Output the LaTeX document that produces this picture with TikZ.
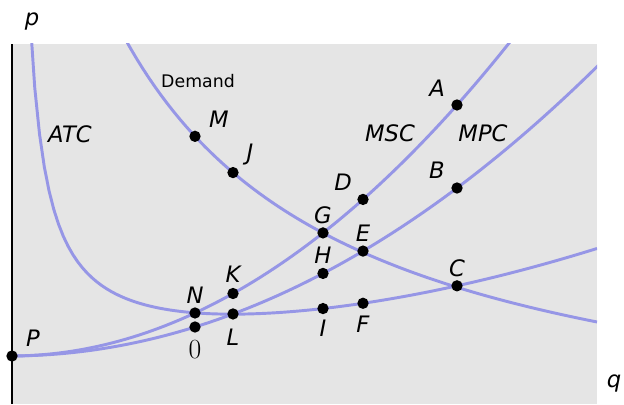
\documentclass[tikz,border=0pt]{standalone}
\usepackage{fontspec}
\setmainfont{DejaVu Sans}
\definecolor{curveBlue}{RGB}{150,150,230}
\definecolor{panelGray}{RGB}{229,229,229}

\begin{document}
\begin{tikzpicture}[x=0.75pt, y=0.75pt,
  declare function={
    mpc(\u)=0.55*(\u/100)+8.36*(\u/100)^2;
    msc(\u)=0.52*(\u/100)+12.56*(\u/100)^2;
    atc(\u)=6100/\u+0.275*(\u/100)+2.79*(\u/100)^2;
    dem(\u)=988.45/(\u+120.4)*100-106.1;},
  curve/.style={draw=curveBlue, line width=2.2pt},
  dot/.style={circle, fill=black, inner sep=0pt, minimum size=8.5pt},
  lbl/.style={font=\fontsize{17}{20}\selectfont\itshape, inner sep=0pt}]
  \useasboundingbox (-12,-48) rectangle (612,356);
  % Shaded panel and price axis
  \fill[panelGray] (0,-48) rectangle (585,312);
  \draw[line width=0.9pt] (0,-48) -- (0,312);
  \node[lbl] (pAxis) at (20,334) {p};
  \node[lbl] (qAxis) at (602,-27) {q};
  % Cost and demand curves
  \begin{scope}
    \clip (0,-48) rectangle (585,312);
    \draw[curve] plot[domain=18:585, samples=120] (\x,{atc(\x)});
    \draw[curve] plot[domain=100:585, samples=80] (\x,{dem(\x)});
    \draw[curve] plot[domain=0:530, samples=80] (\x,{msc(\x)});
    \draw[curve] plot[domain=0:600, samples=80] (\x,{mpc(\x)});
  \end{scope}
  % Curve names
  \node[lbl] (atcName) at (58,222) {ATC};
  \node[font=\fontsize{13}{15}\selectfont, inner sep=0pt] (demName) at (186,275) {Demand};
  \node[lbl] (mscName) at (378,223) {MSC};
  \node[lbl] (mpcName) at (471,223) {MPC};
  % Points
  \node[dot] (P) at (0,0) {};
  \node[dot] (N) at (183,{msc(183)}) {};
  \node[dot] (O) at (183,{mpc(183)}) {};
  \node[dot] (K) at (221,{msc(221)}) {};
  \node[dot] (L) at (221,{mpc(221)}) {};
  \node[dot] (M) at (183,{dem(183)}) {};
  \node[dot] (J) at (221,{dem(221)}) {};
  \node[dot] (G) at (311,{msc(311)}) {};
  \node[dot] (H) at (311,{mpc(311)}) {};
  \node[dot] (I) at (311,{atc(311)}) {};
  \node[dot] (D) at (351,{msc(351)}) {};
  \node[dot] (E) at (351,{mpc(351)}) {};
  \node[dot] (F) at (351,{atc(351)}) {};
  \node[dot] (A) at (445,{msc(445)}) {};
  \node[dot] (B) at (445,{mpc(445)}) {};
  \node[dot] (C) at (445,{atc(445)}) {};
  % Point labels
  \node[lbl] at ([shift={(21,18)}]P) {P};
  \node[lbl] at ([shift={(0,18)}]N) {N};
  \node[font=\fontsize{20}{22}\selectfont, inner sep=0pt] at ([shift={(0,-23)}]O) {$0$};
  \node[lbl] at ([shift={(0,19)}]K) {K};
  \node[lbl] at ([shift={(0,-23)}]L) {L};
  \node[lbl] at ([shift={(24,17)}]M) {M};
  \node[lbl] at ([shift={(17,18)}]J) {J};
  \node[lbl] at ([shift={(0,18)}]G) {G};
  \node[lbl] at ([shift={(0,18)}]H) {H};
  \node[lbl] at ([shift={(0,-20)}]I) {I};
  \node[lbl] at ([shift={(-20,17)}]D) {D};
  \node[lbl] at ([shift={(0,18)}]E) {E};
  \node[lbl] at ([shift={(0,-21)}]F) {F};
  \node[lbl] at ([shift={(-20,17)}]A) {A};
  \node[lbl] at ([shift={(-20,18)}]B) {B};
  \node[lbl] at ([shift={(0,18)}]C) {C};
\end{tikzpicture}
\end{document}
